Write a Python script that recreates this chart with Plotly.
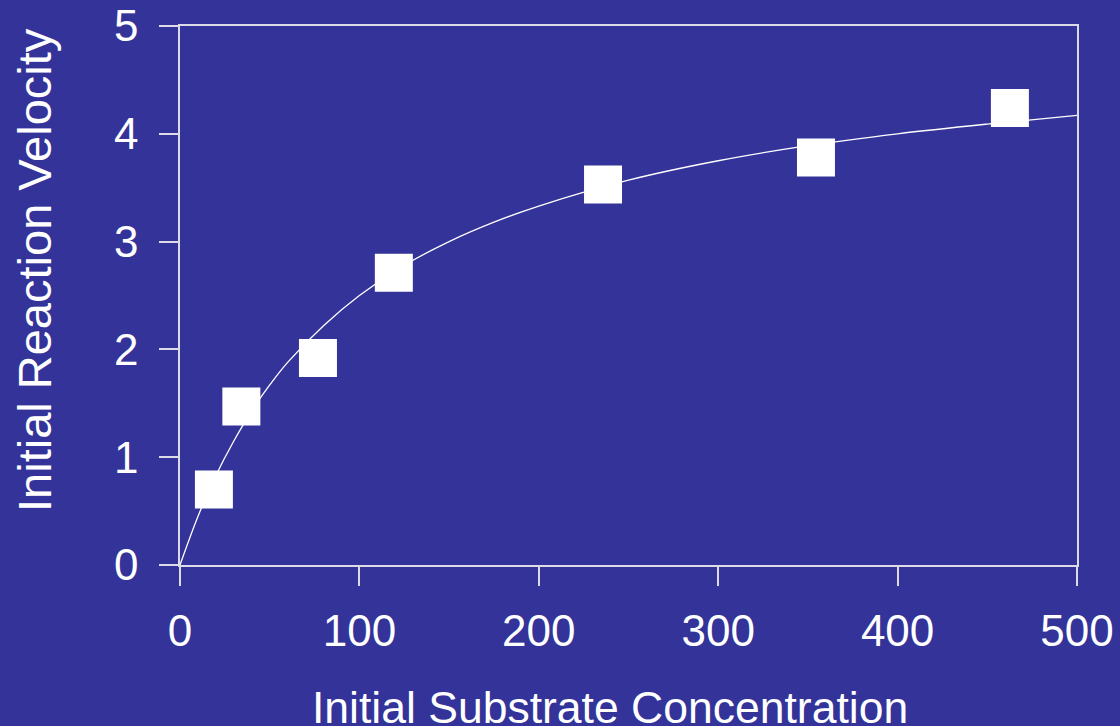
import plotly.graph_objects as go

# Measured initial velocities
substrate = [18.9, 34.2, 76.9, 119.2, 235.8, 354.5, 462.6]
velocity = [0.70, 1.47, 1.92, 2.71, 3.53, 3.78, 4.24]

# Fitted saturation curve, sampled
curve_s = [0, 10, 20, 30, 40, 50, 60, 80, 100, 125, 150, 175, 200, 250, 300, 350, 400, 450, 500]
curve_v = [0.0, 0.45, 0.83, 1.15, 1.43, 1.67, 1.88, 2.22, 2.50, 2.78, 3.00, 3.18, 3.33, 3.57, 3.75, 3.89, 4.00, 4.09, 4.17]

x_ticks = [0, 100, 200, 300, 400, 500]
y_ticks = [0, 1, 2, 3, 4, 5]

BG = "#333399"
LINE = "#dcdce8"
FONT = "Liberation Sans, Arial, sans-serif"

fig = go.Figure()
fig.add_trace(go.Scatter(
    x=curve_s, y=curve_v, mode="lines", line=dict(color="white", width=1.3, shape="spline"),
    hoverinfo="skip", showlegend=False,
))
fig.add_trace(go.Scatter(
    x=substrate, y=velocity, mode="markers",
    marker=dict(symbol="square", size=38, color="white", line=dict(width=0)),
    showlegend=False,
))

axis_common = dict(
    showgrid=False, zeroline=False, showline=True, linecolor=LINE, linewidth=1.5,
    mirror=True, ticks="outside", ticklen=19, tickwidth=1.5, tickcolor=LINE,
    tickfont=dict(family=FONT, size=44, color="white"),
)
fig.update_xaxes(range=[0, 500], tickvals=x_ticks, ticklabelstandoff=7, **axis_common)
fig.update_yaxes(range=[0, 5], tickvals=y_ticks, ticklabelstandoff=12, **axis_common)

fig.add_annotation(
    text="Initial Substrate Concentration", xref="paper", yref="paper",
    x=(610 - 180) / 897, y=(565 - 707) / 539, xanchor="center", yanchor="middle",
    showarrow=False, font=dict(family=FONT, size=44.5, color="white"),
)
fig.add_annotation(
    text="Initial Reaction Velocity", xref="paper", yref="paper",
    x=(34 - 180) / 897, y=(565 - 270) / 539, xanchor="center", yanchor="middle",
    textangle=-90, showarrow=False, font=dict(family=FONT, size=47, color="white"),
)

fig.update_layout(
    width=1120, height=726, paper_bgcolor=BG, plot_bgcolor=BG,
    margin=dict(l=180, r=43, t=26, b=161, autoexpand=False),
    font=dict(family=FONT, color="white"),
)

fig.write_html("out.html", config={"displayModeBar": False})
